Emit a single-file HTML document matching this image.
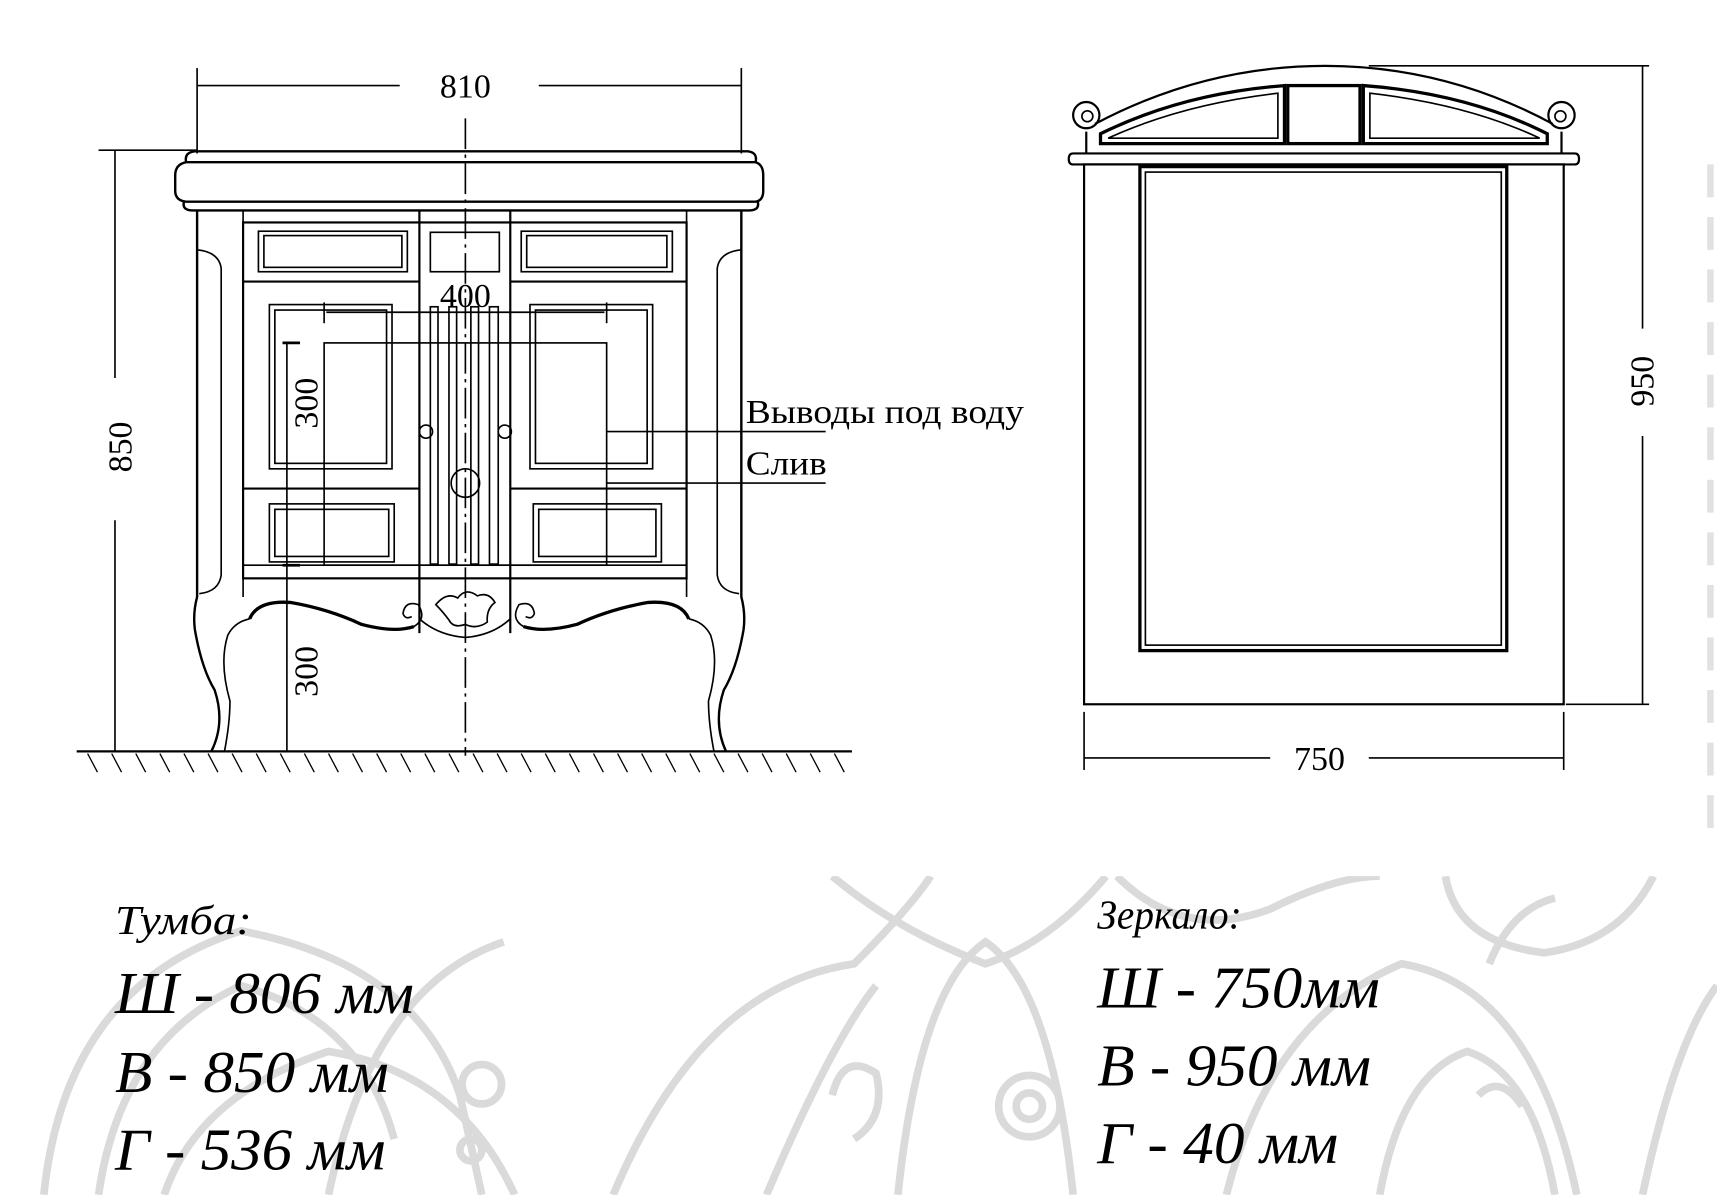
<!DOCTYPE html>
<html><head><meta charset="utf-8"><style>
html,body{margin:0;padding:0;background:#fff;width:1717px;height:1195px;overflow:hidden}
svg{display:block}
</style></head><body>
<svg width="1717" height="1195" viewBox="0 0 1568 1091" xmlns="http://www.w3.org/2000/svg">
<defs><clipPath id="bg"><rect x="0" y="800" width="1568" height="291"/></clipPath></defs>
<g clip-path="url(#bg)" fill="none" stroke="#dadada" stroke-width="7">
 <path d="M40 1091 Q60 900 220 850 Q380 880 420 1000 L440 1091"/>
 <path d="M90 1091 Q110 950 220 900 Q330 930 360 1040"/>
 <path d="M150 1091 Q180 1000 300 960 Q420 980 470 1091"/>
 <path d="M300 1091 Q340 900 460 860"/>
 <circle cx="440" cy="990" r="18"/><circle cx="430" cy="1050" r="10"/>
 <path d="M560 1091 Q640 900 780 880 Q830 830 850 800"/>
 <path d="M700 1091 Q760 950 800 900"/>
 <path d="M760 800 Q820 850 900 880 Q960 860 1010 800"/>
 <path d="M820 1091 Q840 900 900 860 Q960 900 980 1091"/>
 <circle cx="940" cy="1010" r="28"/><circle cx="940" cy="1010" r="12"/>
 <path d="M760 1000 Q770 960 800 980 Q810 1020 780 1040"/>
 <path d="M1020 800 Q1080 860 1160 830 Q1220 800 1260 800"/>
 <path d="M1120 1091 Q1160 930 1280 880 Q1400 900 1440 1091"/>
 <path d="M1260 1091 Q1280 980 1340 960 Q1400 980 1420 1091"/>
 <path d="M1320 800 Q1330 860 1410 870 Q1480 860 1510 800"/>
 <path d="M1360 880 Q1380 830 1420 820"/>
 <path d="M1500 1091 Q1530 950 1568 900"/>
 <path d="M1350 1000 Q1370 980 1390 1010"/>
</g>
<g stroke="#e2e2e2" stroke-width="6"><line x1="1562" y1="150" x2="1562" y2="760" stroke-dasharray="30 18"/></g>

<g fill="none" stroke="#000" stroke-width="1.5">
 <line x1="180" y1="62" x2="180" y2="140"/><line x1="677" y1="62" x2="677" y2="140"/>
 <line x1="180" y1="78" x2="365" y2="78"/><line x1="492" y1="78" x2="677" y2="78"/>
 <line x1="90" y1="137" x2="180" y2="137"/>
 <line x1="105" y1="137" x2="105" y2="345"/><line x1="105" y1="475" x2="105" y2="686"/>
 <line x1="425" y1="108" x2="425" y2="690" stroke-dasharray="28 5 3 5"/>
 <path d="M170 148 Q168 139 178 138 L683 138 Q692 139 690 148" stroke-width="2.2"/>
 <path d="M170 148 L690 148 Q697 150 697 160 L697 174 Q697 183 690 184 L170 184 Q160 183 160 174 L160 160 Q160 150 170 148Z" stroke-width="2.2"/>
 <path d="M168 184 Q166 192 176 192 L684 192 Q694 192 692 184" stroke-width="2.2"/>
 <path d="M180 192 L180 545 Q176 560 178 575 Q184 610 196 630 Q206 660 193 686" stroke-width="2.2"/>
 <path d="M677 192 L677 545 Q681 560 679 575 Q673 610 661 630 Q651 660 663 686" stroke-width="2.2"/>
 <path d="M222 192 L222 545"/><path d="M627 192 L627 545"/>
 <path d="M205 686 Q210 660 210 640 Q200 605 208 580 Q214 568 228 565"/>
 <path d="M652 686 Q647 660 647 640 Q657 605 649 580 Q643 568 629 565"/>
 <path d="M180 228 Q200 230 202 245 L202 525 Q200 540 182 542"/>
 <path d="M677 228 Q657 230 655 245 L655 525 Q657 540 675 542"/>
 <rect x="222" y="203" width="405" height="325" stroke-width="2"/>
 <line x1="222" y1="257" x2="383" y2="257" stroke-width="2"/><line x1="466" y1="257" x2="627" y2="257" stroke-width="2"/>
 <line x1="222" y1="446" x2="383" y2="446" stroke-width="2"/><line x1="466" y1="446" x2="627" y2="446" stroke-width="2"/>
 <line x1="383" y1="192" x2="383" y2="578" stroke-width="2"/><line x1="466" y1="192" x2="466" y2="578" stroke-width="2"/>
 <line x1="222" y1="528" x2="627" y2="528"/>
 <line x1="222" y1="516" x2="627" y2="516"/>
 <rect x="236" y="211" width="136" height="37"/><rect x="241" y="215" width="126" height="29"/>
 <rect x="393" y="212" width="63" height="36"/>
 <rect x="476" y="211" width="138" height="37"/><rect x="481" y="215" width="128" height="29"/>
 <rect x="246" y="278" width="112" height="150"/><rect x="251" y="283" width="102" height="140"/>
 <rect x="484" y="278" width="112" height="150"/><rect x="489" y="283" width="102" height="140"/>
 <rect x="393" y="280" width="7" height="235"/><rect x="410" y="280" width="7" height="235"/>
 <rect x="430" y="280" width="7" height="235"/><rect x="447" y="280" width="8" height="235"/>
 <circle cx="389" cy="394" r="6"/><circle cx="461" cy="394" r="6"/><circle cx="425" cy="441" r="13"/>
 <rect x="246" y="460" width="114" height="53"/><rect x="251" y="465" width="104" height="43"/>
 <rect x="487" y="460" width="117" height="53"/><rect x="492" y="465" width="107" height="43"/>
 <path d="M228 565 Q235 548 265 550 Q300 556 330 570 Q360 578 378 572" stroke-width="3"/>
 <path d="M629 565 Q622 548 592 550 Q557 556 527 570 Q497 578 478 572" stroke-width="3"/>
 <path d="M378 572 Q390 565 382 552 Q370 548 368 560 Q370 566 376 563"/>
 <path d="M478 572 Q466 565 474 552 Q486 548 488 560 Q486 566 480 563"/>
 <path d="M383 565 Q400 580 425 582 Q450 580 466 565"/>
 <path d="M398 552 Q408 540 418 546 Q425 536 436 544 Q446 540 452 550 Q444 556 445 568 Q435 575 425 570 Q414 574 410 566 Q404 558 398 552Z"/>
 <rect x="296" y="313" width="258" height="203"/>
 <line x1="296" y1="276" x2="296" y2="295"/><line x1="554" y1="276" x2="554" y2="295"/>
 <line x1="298" y1="285" x2="552" y2="285"/>
 <line x1="258" y1="313" x2="274" y2="313" stroke-width="2.5"/>
 <line x1="258" y1="516" x2="274" y2="516" stroke-width="2.5"/>
 <line x1="262" y1="313" x2="262" y2="686"/>
 <line x1="554" y1="394" x2="754" y2="394"/><line x1="554" y1="441" x2="754" y2="441"/>
 <line x1="70" y1="686" x2="778" y2="686" stroke-width="2"/>
 <g stroke-width="1.2">
 <path d="M80 688l9 17M102 688l9 17M124 688l9 17M146 688l9 17M168 688l9 17M190 688l9 17M212 688l9 17M234 688l9 17M256 688l9 17M278 688l9 17M300 688l9 17M322 688l9 17M344 688l9 17M366 688l9 17M388 688l9 17M410 688l9 17M432 688l9 17M454 688l9 17M476 688l9 17M498 688l9 17M520 688l9 17M542 688l9 17M564 688l9 17M586 688l9 17M608 688l9 17M630 688l9 17M652 688l9 17M674 688l9 17M696 688l9 17M718 688l9 17M740 688l9 17M762 688l9 17"/>
 </g>

 <rect x="990" y="150" width="438" height="493" stroke-width="2"/>
 <rect x="1041" y="152" width="335" height="442" stroke-width="3"/>
 <rect x="1046" y="157" width="325" height="432"/>
 <path d="M980 140 L1438 140 Q1442 140 1442 145 Q1442 150 1438 150 L980 150 Q976 150 976 145 Q976 140 980 140Z" stroke-width="2"/>
 <path d="M992 140 L992 120 M1426 140 L1426 120" stroke-width="2"/>
 <path d="M1000 113 Q1100 60 1210 60 Q1320 60 1418 113" stroke-width="2"/>
 <circle cx="992" cy="105" r="12" stroke-width="2"/><circle cx="993" cy="106" r="5"/>
 <circle cx="1426" cy="105" r="12" stroke-width="2"/><circle cx="1425" cy="106" r="5"/>
 <path d="M1005 131 L1005 122 Q1080 85 1173 78 L1173 131 Z" stroke-width="3"/>
 <path d="M1012 126 Q1080 95 1167 85 L1167 126 Z"/>
 <rect x="1176" y="78" width="66" height="53" stroke-width="3"/>
 <path d="M1413 131 L1413 122 Q1340 85 1245 78 L1245 131 Z" stroke-width="3"/>
 <path d="M1406 126 Q1340 95 1251 85 L1251 126 Z"/>
 <line x1="1250" y1="60" x2="1506" y2="60"/><line x1="1430" y1="643" x2="1506" y2="643"/>
 <line x1="1500" y1="60" x2="1500" y2="300"/><line x1="1500" y1="398" x2="1500" y2="643"/>
 <line x1="990" y1="650" x2="990" y2="703"/><line x1="1428" y1="650" x2="1428" y2="703"/>
 <line x1="990" y1="692" x2="1160" y2="692"/><line x1="1250" y1="692" x2="1428" y2="692"/>
</g>

<g font-family="Liberation Serif, serif" fill="#000" font-size="31">
 <text x="425" y="89" text-anchor="middle">810</text>
 <text transform="translate(120,408) rotate(-90)" text-anchor="middle">850</text>
 <text x="425" y="280" text-anchor="middle">400</text>
 <text transform="translate(290,368) rotate(-90)" text-anchor="middle">300</text>
 <text transform="translate(290,613) rotate(-90)" text-anchor="middle">300</text>
 <text x="681" y="386" textLength="254" lengthAdjust="spacingAndGlyphs">Выводы под воду</text>
 <text x="681" y="433" textLength="74" lengthAdjust="spacingAndGlyphs">Слив</text>
 <text x="1205" y="703" text-anchor="middle">750</text>
 <text transform="translate(1510,348) rotate(-90)" text-anchor="middle">950</text>
</g>
<g font-family="Liberation Serif, serif" font-style="italic" fill="#000" lengthAdjust="spacingAndGlyphs">
 <text x="105" y="853" font-size="38" textLength="125" lengthAdjust="spacingAndGlyphs">Тумба:</text>
 <text x="105" y="925" font-size="54" textLength="273" lengthAdjust="spacingAndGlyphs">Ш - 806 мм</text>
 <text x="105" y="997" font-size="54" textLength="250" lengthAdjust="spacingAndGlyphs">В - 850 мм</text>
 <text x="105" y="1068" font-size="54" textLength="247" lengthAdjust="spacingAndGlyphs">Г - 536 мм</text>
 <text x="1002" y="848" font-size="38" textLength="132" lengthAdjust="spacingAndGlyphs">Зеркало:</text>
 <text x="1002" y="920" font-size="54" textLength="258" lengthAdjust="spacingAndGlyphs">Ш - 750мм</text>
 <text x="1002" y="991" font-size="54" textLength="250" lengthAdjust="spacingAndGlyphs">В - 950 мм</text>
 <text x="1002" y="1062" font-size="54" textLength="220" lengthAdjust="spacingAndGlyphs">Г - 40 мм</text>
</g>
</svg>
</body></html>
